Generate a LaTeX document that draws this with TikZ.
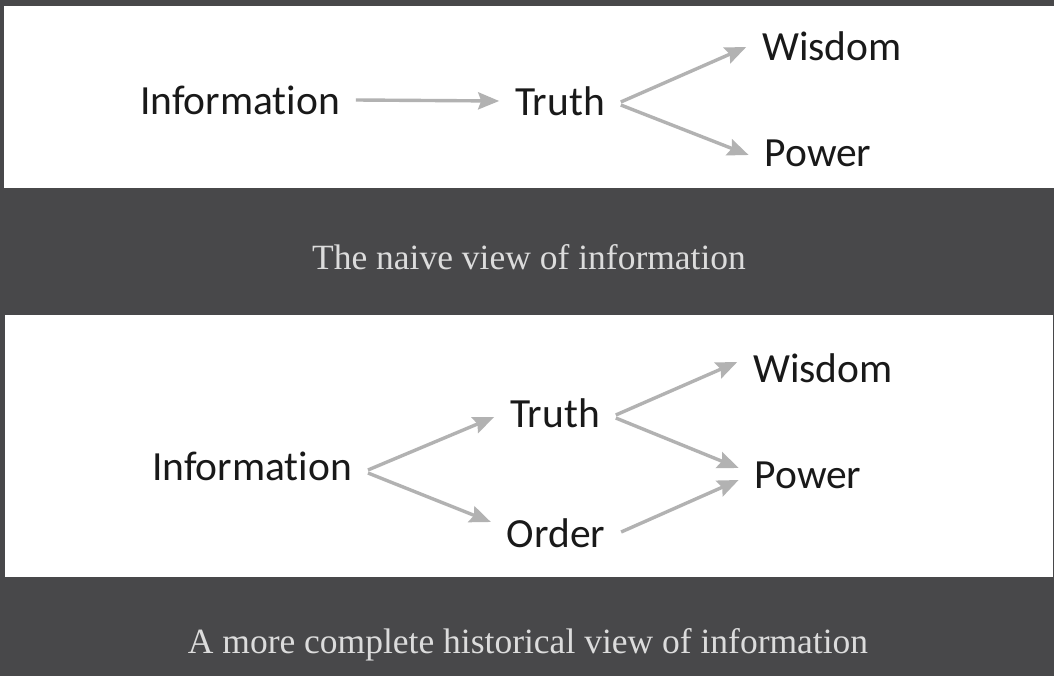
\documentclass[tikz,border=0pt]{standalone}
\usepackage{fontspec}
\setmainfont{Liberation Serif}
\newfontfamily\labelfont[Ligatures=NoCommon]{Carlito}
\usetikzlibrary{arrows.meta}
\definecolor{pagegray}{HTML}{48484A}
\definecolor{captiongray}{HTML}{DCDCDC}
\definecolor{arrowgray}{HTML}{B2B2B2}
\tikzset{
  x=1pt, y=-1pt,
  panel/.style={fill=white, draw=none},
  term/.style={inner sep=0pt, outer xsep=16pt, outer ysep=0pt, text=black!90,
    font=\labelfont\fontsize{41.5}{42}\selectfont},
  caption/.style={inner sep=0pt, text=captiongray, font=\fontsize{35.5}{36}\selectfont},
  flow/.style={draw=arrowgray, line width=3.4pt,
    -{Stealth[length=21pt, width=17pt, inset=3pt]}}
}
\begin{document}
\begin{tikzpicture}
  % page and panels
  \fill[pagegray] (0,0) rectangle (1054,676);
  \useasboundingbox (0,0) rectangle (1054,676);
  \fill[panel] (4,6) rectangle (1054,188);
  \fill[panel] (5,315) rectangle (1053,577);

  % naive chain
  \node[term] (info1)  at (240,100) {Information};
  \node[term] (truth1) at (560,101) {Truth};
  \node[term] (wis1)   at (832,46)  {Wisdom};
  \node[term] (pow1)   at (818,153) {Power};
  \draw[flow] (info1.east) -- (truth1.west);
  \draw[flow] ([yshift=-1pt]truth1.east) -- ([yshift=-1pt]wis1.west);
  \draw[flow] ([yshift=-4pt]truth1.east) -- ([yshift=-2pt]pow1.west);
  \node[caption] (cap1) at (529,257) {The naive view of information};

  % historical chain
  \node[term] (info2)  at (252,466) {Information};
  \node[term] (truth2) at (555,413) {Truth};
  \node[term] (order2) at (556,533) {Order};
  \node[term] (wis2)   at (823,368) {Wisdom};
  \node[term] (pow2)   at (808,475) {Power};
  \draw[flow] ([yshift=-4pt]info2.east) -- ([yshift=-4pt]truth2.west);
  \draw[flow] ([yshift=-7pt]info2.east) -- ([yshift=11pt]order2.west);
  \draw[flow] ([yshift=-2pt]truth2.east) -- ([yshift=6pt]wis2.west);
  \draw[flow] ([yshift=-5pt]truth2.east) -- ([yshift=7pt]pow2.west);
  \draw[flow] ([yshift=1pt]order2.east) -- ([yshift=-5pt]pow2.west);
  \node[caption] (cap2) at (528,645) {A more complete historical view of information};
\end{tikzpicture}
\end{document}
